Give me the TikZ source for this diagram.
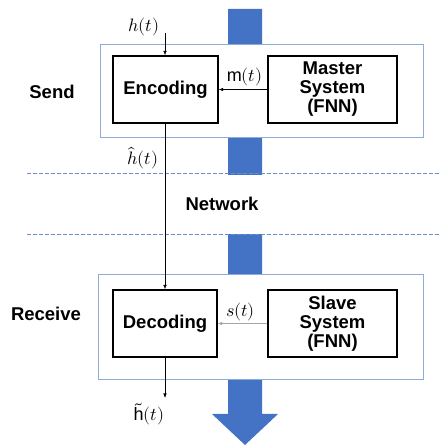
\documentclass[tikz,border=0pt]{standalone}
\usepackage{unicode-math}
\setmainfont{Liberation Sans}
\setmathfont{Latin Modern Math}
\usetikzlibrary{arrows.meta}
\definecolor{barblue}{HTML}{4472C4}
\definecolor{frameblue}{HTML}{8FAADC}
\tikzset{
  block/.style={draw, line width=1.3pt, fill=white, minimum height=67pt, inner sep=0pt,
    align=center, font=\bfseries\fontsize{18.5}{19}\selectfont},
  stage/.style={draw=frameblue, line width=1pt, fill=white},
  heading/.style={font=\bfseries\fontsize{18.5}{20}\selectfont},
  sig/.style={font=\fontsize{18}{20}\selectfont, inner sep=1pt},
  link/.style={-{Latex[length=4.5pt,width=3.5pt]}, line width=0.6pt},
  netline/.style={barblue!80, line width=1pt, dash pattern=on 4pt off 2pt}
}
\begin{document}
\begin{tikzpicture}[x=1pt, y=1pt]
  \useasboundingbox (0,0) rectangle (439,445);
  \fill[barblue] (228,436) -- (262,436) -- (262,31) -- (278,31) -- (245,0)
    -- (212,31) -- (228,31) -- cycle;
  \fill[white] (27,211) rectangle (439,270);
  \draw[netline] (27,271) -- (439,271);
  \draw[netline] (27,210) -- (439,210);

  \draw[stage] (100,400) rectangle (423,307);
  \draw[stage] (98,170) rectangle (423,65);

  \node[block, minimum width=105pt] (enc) at (165.5,355.5) {Encoding};
  \node[block, minimum width=129pt] (master) at (332.5,355.5) {Master\\System\\(FNN)};
  \node[block, minimum width=104pt] (dec) at (165,121.5) {Decoding};
  \node[block, minimum width=129pt] (slave) at (332.5,121.5) {Slave\\System\\(FNN)};

  \node[heading] (send) at (52,353) {Send};
  \node[heading] (recv) at (46,131) {Receive};
  \node[heading] (net) at (222,241) {Network};

  \node[sig] (h) at (144,418) {$h(t)$};
  \node[sig] (hhat) at (143,287) {$\hat{h}(t)$};
  \node[sig] (m) at (244.5,368) {$\mathrm{m}(t)$};
  \node[sig] (s) at (240.5,133) {$s(t)$};
  \node[sig] (htil) at (149,31) {$\tilde{\mathrm{h}}(t)$};

  \coordinate (in) at (165,412);
  \coordinate (out) at (165,47);
  \draw[link] (in) -- (enc.north -| in);
  \draw[link] (master.west) -- (enc.east);
  \draw[link] (enc.south -| in) -- (dec.north -| in);
  \draw[link, draw=black!35] (slave.west) -- (dec.east);
  \draw[link] (dec.south -| out) -- (out);
\end{tikzpicture}
\end{document}
